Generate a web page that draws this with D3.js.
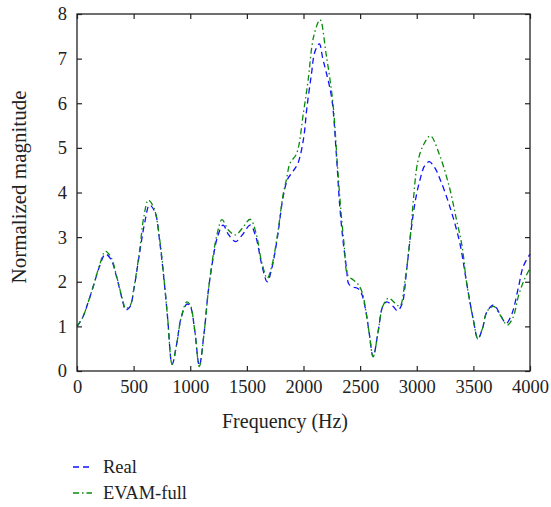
<!DOCTYPE html>
<html>
<head>
<meta charset="utf-8">
<script src="https://cdn.jsdelivr.net/npm/d3@7.9.0/dist/d3.min.js"></script>
<style>
  body { margin: 0; background: #fff; }
</style>
</head>
<body>
<svg id="chart" width="551" height="507"></svg>
<script>
// frequency (Hz) and magnitude
const realFreq = [0, 50, 100, 150, 200, 250, 300, 350, 400, 430, 470, 500, 550, 600, 640, 690, 730, 770, 800, 840, 880, 920, 970, 1000, 1040, 1080, 1120, 1160, 1200, 1240, 1290, 1340, 1400, 1460, 1530, 1580, 1630, 1680, 1720, 1770, 1820, 1860, 1900, 1950, 2000, 2030, 2070, 2100, 2140, 2170, 2200, 2250, 2290, 2320, 2350, 2380, 2400, 2440, 2480, 2510, 2550, 2580, 2615, 2660, 2700, 2735, 2790, 2830, 2870, 2910, 2950, 2990, 3030, 3070, 3110, 3160, 3210, 3290, 3380, 3440, 3500, 3540, 3580, 3620, 3680, 3730, 3790, 3840, 3900, 3940, 4000];
const realMag = [1.0, 1.2, 1.55, 1.95, 2.35, 2.62, 2.5, 2.1, 1.6, 1.37, 1.45, 1.8, 2.6, 3.35, 3.72, 3.55, 2.9, 2.0, 1.2, 0.15, 0.6, 1.2, 1.5, 1.45, 0.9, 0.12, 0.8, 1.8, 2.5, 3.0, 3.27, 3.05, 2.9, 3.05, 3.27, 3.0, 2.4, 2.0, 2.3, 3.0, 3.9, 4.3, 4.45, 4.65, 5.2, 5.9, 6.65, 7.15, 7.33, 7.0, 6.7, 6.1, 4.85, 3.7, 2.9, 2.3, 1.95, 1.88, 1.85, 1.75, 1.35, 0.85, 0.32, 0.9, 1.45, 1.55, 1.45, 1.35, 1.5, 2.25, 3.15, 3.85, 4.3, 4.6, 4.69, 4.55, 4.27, 3.7, 2.87, 1.98, 1.14, 0.72, 0.95, 1.33, 1.48, 1.3, 1.07, 1.28, 1.9, 2.34, 2.62];

const evamFreq = [0, 50, 100, 150, 200, 250, 300, 350, 400, 430, 470, 500, 550, 590, 630, 680, 730, 770, 800, 840, 880, 920, 970, 1000, 1040, 1080, 1120, 1160, 1200, 1240, 1280, 1340, 1400, 1460, 1530, 1580, 1630, 1680, 1720, 1770, 1820, 1850, 1880, 1940, 2000, 2040, 2090, 2146, 2200, 2260, 2300, 2330, 2360, 2390, 2440, 2480, 2520, 2550, 2580, 2615, 2660, 2700, 2750, 2810, 2850, 2900, 2950, 2970, 3010, 3060, 3120, 3200, 3290, 3350, 3400, 3440, 3500, 3540, 3580, 3620, 3680, 3730, 3800, 3850, 3900, 3950, 4000];
const evamMag = [1.0, 1.2, 1.55, 1.95, 2.38, 2.68, 2.55, 2.12, 1.62, 1.4, 1.47, 1.82, 2.65, 3.45, 3.83, 3.65, 2.95, 2.02, 1.2, 0.15, 0.6, 1.2, 1.55, 1.48, 0.9, 0.1, 0.8, 1.8, 2.55, 3.1, 3.39, 3.15, 3.05, 3.2, 3.4, 3.1, 2.45, 2.08, 2.35, 3.05, 3.95, 4.3, 4.65, 4.88, 5.8, 6.5, 7.5, 7.87, 7.1, 6.0, 4.6, 3.6, 2.8, 2.15, 2.04, 1.95, 1.75, 1.35, 0.85, 0.32, 0.9, 1.45, 1.63, 1.52, 1.45, 2.1, 3.2, 3.83, 4.7, 5.07, 5.27, 4.85, 4.1, 3.4, 2.8, 1.98, 1.14, 0.72, 0.95, 1.33, 1.45, 1.28, 1.03, 1.2, 1.7, 2.05, 2.3];

const xTicks = [0, 500, 1000, 1500, 2000, 2500, 3000, 3500, 4000];
const yTicks = [0, 1, 2, 3, 4, 5, 6, 7, 8];

const series = [
  { name: "Real", freq: realFreq, mag: realMag, color: "#1010ff", dash: "6,4" },
  { name: "EVAM-full", freq: evamFreq, mag: evamMag, color: "#0a8a0a", dash: "6,3,1.5,3" }
];

const FONT = '"Liberation Serif"';

const svg = d3.select("#chart");
const m = { left: 77, right: 530, top: 14, bottom: 371 };

const x = d3.scaleLinear().domain([0, 4000]).range([m.left, m.right]);
const y = d3.scaleLinear().domain([0, 8]).range([m.bottom, m.top]);

// curves
const line = d3.line()
  .x(d => x(d[0]))
  .y(d => y(d[1]))
  .curve(d3.curveCatmullRom.alpha(0.5));

series.forEach(s => {
  svg.append("path")
    .datum(s.freq.map((f, i) => [f, s.mag[i]]))
    .attr("d", line)
    .attr("fill", "none")
    .attr("stroke", s.color)
    .attr("stroke-width", 1.3)
    .attr("stroke-dasharray", s.dash);
});

// axes, ticks pointing in on all four sides
const tickLen = 5;
const axBottom = svg.append("g").attr("transform", `translate(0,${m.bottom})`)
  .call(d3.axisBottom(x).tickValues(xTicks).tickFormat(d3.format("d"))
    .tickSizeInner(-tickLen).tickSizeOuter(0).tickPadding(9));
const axTop = svg.append("g").attr("transform", `translate(0,${m.top})`)
  .call(d3.axisTop(x).tickValues(xTicks).tickSizeInner(-tickLen).tickSizeOuter(0).tickFormat(""));
const axLeft = svg.append("g").attr("transform", `translate(${m.left},0)`)
  .call(d3.axisLeft(y).tickValues(yTicks).tickSizeInner(-tickLen).tickSizeOuter(0).tickPadding(10));
const axRight = svg.append("g").attr("transform", `translate(${m.right},0)`)
  .call(d3.axisRight(y).tickValues(yTicks).tickSizeInner(-tickLen).tickSizeOuter(0).tickFormat(""));

[axBottom, axTop, axLeft, axRight].forEach(g => {
  g.select(".domain").remove();
  g.selectAll(".tick line").attr("stroke", "#222").attr("stroke-width", 1.2);
  g.selectAll("text").attr("fill", "#222")
    .style("font-family", FONT).style("font-size", "18.5px");
});

svg.append("rect")
  .attr("x", m.left).attr("y", m.top)
  .attr("width", m.right - m.left).attr("height", m.bottom - m.top)
  .attr("fill", "none").attr("stroke", "#222").attr("stroke-width", 1.3);

// axis titles
svg.append("text")
  .attr("x", 285).attr("y", 428)
  .attr("text-anchor", "middle").attr("fill", "#222")
  .style("font-family", FONT).style("font-size", "20px")
  .text("Frequency (Hz)");

svg.append("text")
  .attr("transform", "translate(26,187) rotate(-90)")
  .attr("text-anchor", "middle").attr("fill", "#222")
  .style("font-family", FONT).style("font-size", "21px")
  .text("Normalized magnitude");

// legend
const legend = svg.append("g").attr("transform", "translate(73,467)");
series.forEach((s, i) => {
  const g = legend.append("g").attr("transform", `translate(0,${i * 26})`);
  g.append("line")
    .attr("x1", 0).attr("x2", 19).attr("y1", 0).attr("y2", 0)
    .attr("stroke", s.color).attr("stroke-width", 1.3)
    .attr("stroke-dasharray", s.dash);
  g.append("text")
    .attr("x", 30).attr("y", 6).attr("fill", "#222")
    .style("font-family", FONT).style("font-size", "18.5px")
    .text(s.name);
});
</script>
</body>
</html>
